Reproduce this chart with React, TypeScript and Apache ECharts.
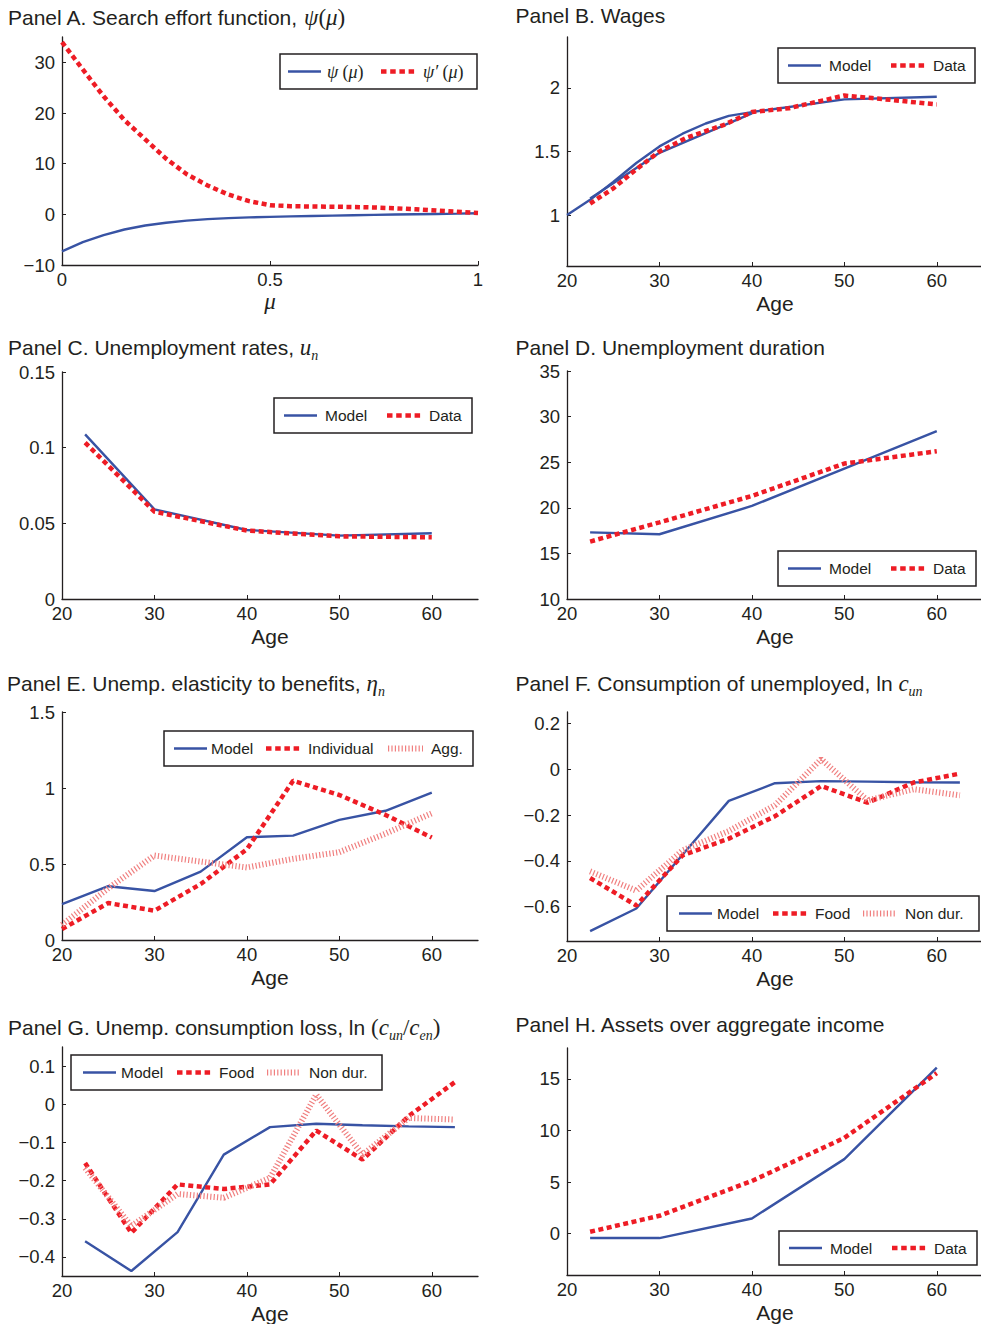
import React, { useEffect, useRef } from "react";
import * as echarts from "echarts";

// ---------- data ----------
// Panel A: search effort function and its derivative
const muGrid = [0, 0.05, 0.1, 0.15, 0.2, 0.25, 0.3, 0.35, 0.4, 0.45, 0.5, 0.55, 0.6, 0.65, 0.7, 0.75, 0.8, 0.85, 0.9, 0.95, 1];
const psi = [-7.3, -5.5, -4.1, -3.0, -2.2, -1.65, -1.25, -0.95, -0.75, -0.6, -0.5, -0.4, -0.32, -0.25, -0.18, -0.1, -0.03, 0.03, 0.08, 0.13, 0.2];
const psiPrime = [34.0, 28.6, 23.3, 18.6, 14.8, 11.0, 7.9, 5.7, 3.9, 2.6, 1.8, 1.6, 1.55, 1.5, 1.45, 1.35, 1.2, 1.0, 0.75, 0.5, 0.25];

// Panel B: wages
const wageModelAges = [20, 22.5, 25, 27.5, 30, 32.5, 35, 37.5, 40, 50, 60];
const wageModel = [1.0, 1.12, 1.26, 1.41, 1.54, 1.64, 1.72, 1.78, 1.81, 1.91, 1.93];
const wageModelDecadeAges = [22.5, 30, 40];
const wageModelDecade = [1.13, 1.49, 1.8];
const wageDataAges = [22.5, 25, 27.5, 30, 33, 37, 40, 44, 50, 53, 60];
const wageData = [1.09, 1.21, 1.36, 1.5, 1.61, 1.71, 1.81, 1.84, 1.94, 1.92, 1.87];

// Panels C, D, H: age groups
const groupAges = [22.5, 30, 40, 50, 60];
const unempModel = [0.1088, 0.0592, 0.0456, 0.0419, 0.0434];
const unempData = [0.1033, 0.0577, 0.0452, 0.0414, 0.0408];
const durModel = [17.3, 17.1, 20.2, 24.3, 28.4];
const durData = [16.3, 18.4, 21.3, 24.85, 26.2];
const assetsModel = [-0.42, -0.42, 1.48, 7.23, 16.1];
const assetsData = [0.19, 1.74, 5.11, 9.29, 15.56];

// Panel E: elasticity to benefits
const elastAges = [20, 25, 30, 35, 40, 45, 50, 55, 60];
const elastModel = [0.236, 0.354, 0.322, 0.45, 0.676, 0.687, 0.79, 0.85, 0.97];
const elastIndividual = [0.072, 0.243, 0.193, 0.368, 0.597, 1.048, 0.954, 0.823, 0.674];
const elastAgg = [0.1, 0.34, 0.556, 0.516, 0.477, 0.534, 0.578, 0.7, 0.834];

// Panels F, G: five-year age bins
const binAges = [22.5, 27.5, 32.5, 37.5, 42.5, 47.5, 52.5, 57.5, 62.5];
const consModel = [-0.707, -0.608, -0.373, -0.138, -0.061, -0.052, -0.054, -0.057, -0.058];
const consFood = [-0.475, -0.595, -0.376, -0.303, -0.205, -0.073, -0.146, -0.058, -0.019];
const consNonDur = [-0.446, -0.53, -0.354, -0.27, -0.157, 0.044, -0.136, -0.087, -0.114];
const lossModel = [-0.359, -0.437, -0.335, -0.132, -0.06, -0.051, -0.055, -0.058, -0.06];
const lossFood = [-0.154, -0.337, -0.21, -0.222, -0.21, -0.069, -0.145, -0.031, 0.058];
const lossNonDur = [-0.167, -0.319, -0.235, -0.245, -0.193, 0.025, -0.132, -0.036, -0.04];

// Tick labels
const ageTicks = [20, 30, 40, 50, 60];
const muTicks = [0, 0.5, 1];
const yTicksA = [-10, 0, 10, 20, 30];
const yTicksB = [1, 1.5, 2];
const yTicksC = [0, 0.05, 0.1, 0.15];
const yTicksD = [10, 15, 20, 25, 30, 35];
const yTicksE = [0, 0.5, 1, 1.5];
const yTicksF = [-0.6, -0.4, -0.2, 0, 0.2];
const yTicksG = [-0.4, -0.3, -0.2, -0.1, 0, 0.1];
const yTicksH = [0, 5, 10, 15];

// ---------- styles ----------
const INK = "#231f20";
const BLUE = "#3853a4";
const RED = "#ee1c25";
const PINK = "#f07f7f";
const SANS = "'Liberation Sans', Arial, Helvetica, sans-serif";
const SERIF = "'Liberation Serif', 'Times New Roman', serif";

const solidStyle = { color: BLUE, width: 2.4, type: "solid" as const };
const dotStyle = { color: RED, width: 4.5, type: [5, 3.5], cap: "butt" as const };
const hatchStyle = { color: PINK, width: 6, type: [1.2, 2.2], cap: "butt" as const };

const grids = [
  { left: 62, top: 37, width: 416, height: 228 },
  { left: 567, top: 37, width: 416, height: 229 },
  { left: 62, top: 372, width: 416, height: 227 },
  { left: 567, top: 371, width: 416, height: 228 },
  { left: 62, top: 712, width: 416, height: 228 },
  { left: 567, top: 712, width: 416, height: 229 },
  { left: 62, top: 1047, width: 416, height: 229 },
  { left: 567, top: 1048, width: 416, height: 227 },
];

const fmt = (v: number) => String(v).replace("-", "\u2212");

function xAxisFor(i: number, min: number, max: number, ticks: number[], name: string, nameStyle: any, nameGap = 27) {
  return {
    type: "value",
    gridIndex: i,
    min,
    max,
    axisLine: { show: true, onZero: false, lineStyle: { color: INK, width: 1.3 } },
    axisTick: { show: true, inside: true, length: 4, customValues: ticks, lineStyle: { color: INK, width: 1 } },
    axisLabel: { customValues: ticks, formatter: fmt, color: INK, fontSize: 18.5, fontFamily: SANS, margin: 5 },
    splitLine: { show: false },
    name,
    nameLocation: "middle",
    nameGap,
    nameTextStyle: { color: INK, ...nameStyle },
  };
}

function yAxisFor(i: number, min: number, max: number, ticks: number[]) {
  return {
    type: "value",
    gridIndex: i,
    min,
    max,
    axisLine: { show: true, onZero: false, lineStyle: { color: INK, width: 1.3 } },
    axisTick: { show: true, inside: true, length: 4, customValues: ticks, lineStyle: { color: INK, width: 1 } },
    axisLabel: { customValues: ticks, formatter: fmt, color: INK, fontSize: 18.5, fontFamily: SANS, margin: 7 },
    splitLine: { show: false },
  };
}

function line(gi: number, name: string, xs: number[], ys: number[], style: any, extra: any = {}) {
  return {
    type: "line",
    name,
    xAxisIndex: gi,
    yAxisIndex: gi,
    data: xs.map((x, k) => [x, ys[k]]),
    symbol: "none",
    silent: true,
    lineStyle: style,
    ...extra,
  };
}

// ---------- titles ----------
const richBase = {
  t: { fontFamily: SANS, fontSize: 21, lineHeight: 30, verticalAlign: "middle", fill: INK },
  m: { fontFamily: SERIF, fontStyle: "italic", fontSize: 23, lineHeight: 30, verticalAlign: "middle", fill: INK },
  p: { fontFamily: SERIF, fontSize: 23, lineHeight: 30, verticalAlign: "middle", fill: INK },
  s: { fontFamily: SERIF, fontStyle: "italic", fontSize: 14, lineHeight: 14, verticalAlign: "bottom", fill: INK },
};

function title(x: number, baseline: number, text: string) {
  return {
    type: "text",
    x,
    y: baseline - 22.3,
    z: 100,
    style: { text, rich: richBase, fill: INK, fontFamily: SANS, fontSize: 21, verticalAlign: "top", align: "left" },
  };
}

// ---------- legends ----------
type Entry = { kind: "model" | "dot" | "hatch"; label: string; x0: number; x1: number; tx: number };

const legendRich = {
  t: { fontFamily: SANS, fontSize: 15.5, verticalAlign: "middle", fill: INK },
  m: { fontFamily: SERIF, fontStyle: "italic", fontSize: 18, verticalAlign: "middle", fill: INK },
  p: { fontFamily: SERIF, fontSize: 18, verticalAlign: "middle", fill: INK },
};

function legendBox(left: number, top: number, width: number, height: number, entries: Entry[]) {
  const cy = top + height / 2;
  const children: any[] = [
    {
      type: "rect",
      shape: { x: left, y: top, width, height },
      style: { fill: "#fff", stroke: INK, lineWidth: 1.5 },
    },
  ];
  entries.forEach((e) => {
    const st =
      e.kind === "model"
        ? { stroke: BLUE, lineWidth: 2.4 }
        : e.kind === "dot"
        ? { stroke: RED, lineWidth: 4.5, lineDash: [5.5, 3.7], lineCap: "butt" }
        : { stroke: PINK, lineWidth: 6, lineDash: [1.2, 2.2], lineCap: "butt" };
    children.push({
      type: "line",
      shape: { x1: left + e.x0, y1: cy, x2: left + e.x1, y2: cy },
      style: st,
    });
    children.push({
      type: "text",
      x: left + e.tx,
      y: cy,
      style: {
        text: e.label.startsWith("{") ? e.label : `{t|${e.label}}`,
        rich: legendRich,
        fill: INK,
        fontFamily: SANS,
        fontSize: 15.5,
        verticalAlign: "middle",
        align: "left",
      },
    });
  });
  return { type: "group", z: 100, children };
}

const twoEntries = (a: string, b: string): Entry[] => [
  { kind: "model", label: a, x0: 10, x1: 43, tx: 51 },
  { kind: "dot", label: b, x0: 113, x1: 147, tx: 155 },
];
const threeWide: Entry[] = [
  { kind: "model", label: "Model", x0: 10, x1: 43, tx: 47 },
  { kind: "dot", label: "Individual", x0: 102, x1: 136, tx: 144 },
  { kind: "hatch", label: "Agg.", x0: 224, x1: 259, tx: 267 },
];
const threeCons: Entry[] = [
  { kind: "model", label: "Model", x0: 12, x1: 45, tx: 50 },
  { kind: "dot", label: "Food", x0: 106, x1: 140, tx: 148 },
  { kind: "hatch", label: "Non dur.", x0: 196, x1: 230, tx: 238 },
];

export default function App() {
  const ref = useRef<HTMLDivElement>(null);

  useEffect(() => {
    document.body.style.margin = "0";
    if (!ref.current) return;
    const chart = echarts.init(ref.current, undefined, { renderer: "svg" });

    const ageName = { fontFamily: SANS, fontSize: 21 };
    const muName = { fontFamily: SERIF, fontStyle: "italic", fontSize: 23 };

    const option: any = {
      animation: false,
      backgroundColor: "#fff",
      grid: grids.map((g) => ({ ...g, containLabel: false, outerBoundsMode: "none" })),
      xAxis: [
        xAxisFor(0, 0, 1, muTicks, "\u03bc", muName, 23),
        xAxisFor(1, 20, 65, ageTicks, "Age", ageName),
        xAxisFor(2, 20, 65, ageTicks, "Age", ageName),
        xAxisFor(3, 20, 65, ageTicks, "Age", ageName),
        xAxisFor(4, 20, 65, ageTicks, "Age", ageName),
        xAxisFor(5, 20, 65, ageTicks, "Age", ageName),
        xAxisFor(6, 20, 65, ageTicks, "Age", ageName),
        xAxisFor(7, 20, 65, ageTicks, "Age", ageName),
      ],
      yAxis: [
        yAxisFor(0, -10, 35, yTicksA),
        yAxisFor(1, 0.6, 2.4, yTicksB),
        yAxisFor(2, 0, 0.15, yTicksC),
        yAxisFor(3, 10, 35, yTicksD),
        yAxisFor(4, 0, 1.5, yTicksE),
        yAxisFor(5, -0.75, 0.25, yTicksF),
        yAxisFor(6, -0.45, 0.15, yTicksG),
        yAxisFor(7, -4, 18, yTicksH),
      ],
      series: [
        // A
        line(0, "\u03c8(\u03bc)", muGrid, psi, solidStyle),
        line(0, "\u03c8'(\u03bc)", muGrid, psiPrime, dotStyle),
        // B
        line(1, "Model", wageModelAges, wageModel, solidStyle),
        line(1, "Model (decades)", wageModelDecadeAges, wageModelDecade, solidStyle),
        line(1, "Data", wageDataAges, wageData, dotStyle),
        // C
        line(2, "Model", groupAges, unempModel, solidStyle),
        line(2, "Data", groupAges, unempData, dotStyle),
        // D
        line(3, "Model", groupAges, durModel, solidStyle),
        line(3, "Data", groupAges, durData, dotStyle),
        // E
        line(4, "Model", elastAges, elastModel, solidStyle),
        line(4, "Individual", elastAges, elastIndividual, dotStyle),
        line(4, "Agg.", elastAges, elastAgg, hatchStyle),
        // F
        line(5, "Model", binAges, consModel, solidStyle),
        line(5, "Food", binAges, consFood, dotStyle),
        line(5, "Non dur.", binAges, consNonDur, hatchStyle),
        // G
        line(6, "Model", binAges, lossModel, solidStyle),
        line(6, "Food", binAges, lossFood, dotStyle),
        line(6, "Non dur.", binAges, lossNonDur, hatchStyle),
        // H
        line(7, "Model", groupAges, assetsModel, solidStyle),
        line(7, "Data", groupAges, assetsData, dotStyle),
      ],
      graphic: [
        title(8, 25, "{t|Panel A. Search effort function, }{m|\u03c8}{p|(}{m|\u03bc}{p|)}"),
        title(515.5, 22.3, "{t|Panel B. Wages}"),
        title(8, 355, "{t|Panel C. Unemployment rates, }{m|u}{s|n}"),
        title(515.5, 355, "{t|Panel D. Unemployment duration}"),
        title(7, 691, "{t|Panel E. Unemp. elasticity to benefits, }{m|\u03b7}{s|n}"),
        title(515.5, 691, "{t|Panel F. Consumption of unemployed, ln }{m|c}{s|un}"),
        title(8, 1035, "{t|Panel G. Unemp. consumption loss, ln }{p|(}{m|c}{s|un}{p|/}{m|c}{s|en}{p|)}"),
        title(515.5, 1031.7, "{t|Panel H. Assets over aggregate income}"),
        legendBox(280, 54, 197, 35, [
          { kind: "model", label: "{m|\u03c8} {p|(}{m|\u03bc}{p|)}", x0: 8, x1: 41, tx: 47 },
          { kind: "dot", label: "{m|\u03c8\u2032} {p|(}{m|\u03bc}{p|)}", x0: 101, x1: 135, tx: 143 },
        ]),
        legendBox(778, 48, 197, 35, twoEntries("Model", "Data")),
        legendBox(274, 398, 198, 35, twoEntries("Model", "Data")),
        legendBox(778, 551, 198, 35, twoEntries("Model", "Data")),
        legendBox(164, 731, 309, 35, threeWide),
        legendBox(667, 896, 312, 35, threeCons),
        legendBox(71, 1055, 311, 35, threeCons),
        legendBox(779, 1231, 198, 34, twoEntries("Model", "Data")),
      ],
    };

    chart.setOption(option);
    return () => chart.dispose();
  }, []);

  return <div ref={ref} style={{ width: 981, height: 1324 }} />;
}
